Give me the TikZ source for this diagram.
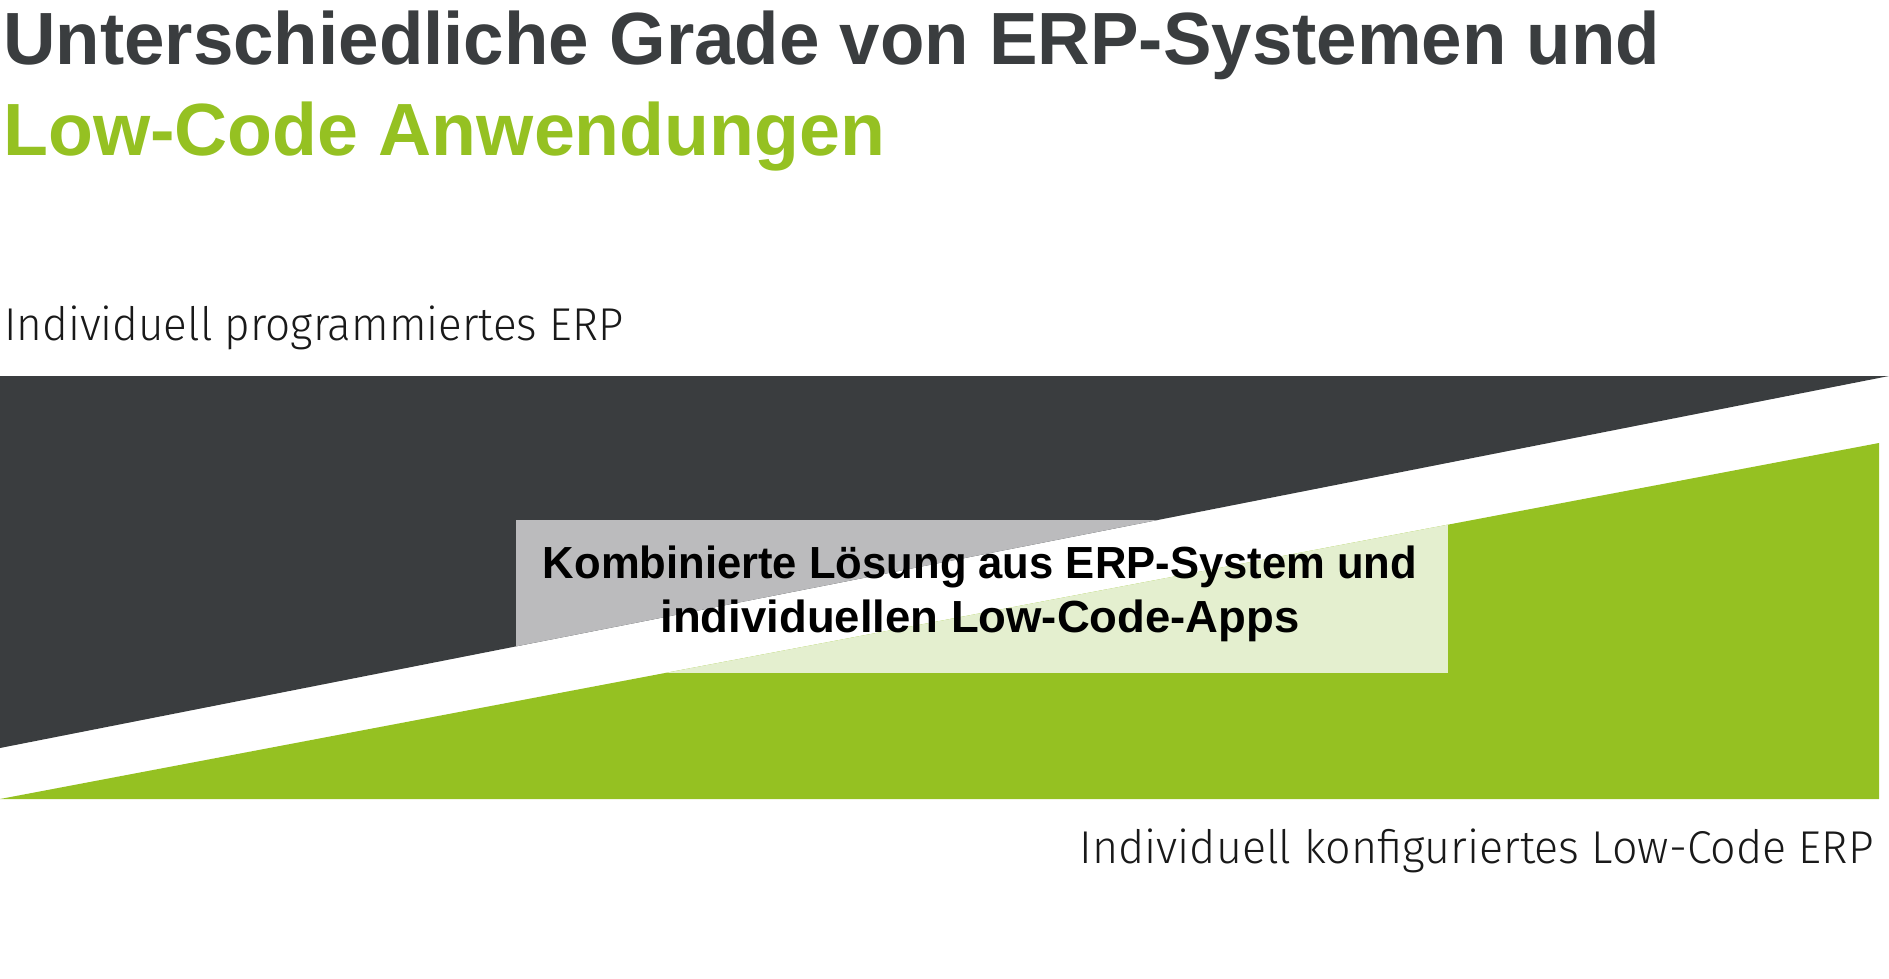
\documentclass[tikz,border=0pt]{standalone}
\usepackage{fontspec}
\setmainfont{Liberation Sans}
\newfontfamily\thinfont{Fira Sans Light}
\usepackage{graphicx}
\usepackage{tikz}
\usetikzlibrary{positioning}
\definecolor{erpDark}{HTML}{3A3D3F}
\definecolor{lowGreen}{HTML}{95C122}
\definecolor{mixGray}{HTML}{BBBBBD}
\definecolor{mixGreen}{HTML}{E4EFCF}
\tikzstyle{headText}=[inner sep=0pt,anchor=base west,font=\bfseries\fontsize{74}{80}\selectfont]
\tikzstyle{sideText}=[inner sep=0pt,text=black!90,font=\thinfont\fontsize{46}{50}\selectfont]
\tikzstyle{mixText}=[inner sep=0pt,anchor=base,font=\bfseries\fontsize{45}{50}\selectfont]
\newcommand{\fitto}[2]{\resizebox{#1}{\height}{#2}}

\begin{document}
\begin{tikzpicture}[x=1pt,y=-1pt]

    \useasboundingbox (0,0) rectangle (1889,979);

    % the two wedges
    \fill[erpDark] (0,376) -- (1889,376) -- (0,748) -- cycle;
    \fill[lowGreen] (0,799) -- (1879,443) -- (1879,799) -- cycle;

    % combined box, light where it lies on a wedge
    \begin{scope}
        \clip (0,376) -- (1889,376) -- (0,748) -- cycle;
        \fill[mixGray] (516,520) rectangle (1448,673);
    \end{scope}
    \begin{scope}
        \clip (0,799) -- (1879,443) -- (1879,799) -- cycle;
        \fill[mixGreen] (516,520) rectangle (1448,673);
    \end{scope}

    \node[headText,text=erpDark] (head1) at (3,65) {\fitto{1657pt}{Unterschiedliche Grade von ERP-Systemen und}};
    \node[headText,text=lowGreen] (head2) at (3,155) {\fitto{882pt}{Low-Code Anwendungen}};

    \node[sideText,anchor=base west] (erpLabel) at (4,340) {\fitto{619pt}{Individuell programmiertes ERP}};
    \node[sideText,anchor=base east] (lowLabel) at (1874,863) {\fitto{794pt}{Individuell konfiguriertes Low-Code ERP}};

    \node[mixText] (mix1) at (980,578) {\fitto{874pt}{Kombinierte Lösung aus ERP-System und}};
    \node[mixText] (mix2) at (980,632) {\fitto{639pt}{individuellen Low-Code-Apps}};

\end{tikzpicture}
\end{document}
